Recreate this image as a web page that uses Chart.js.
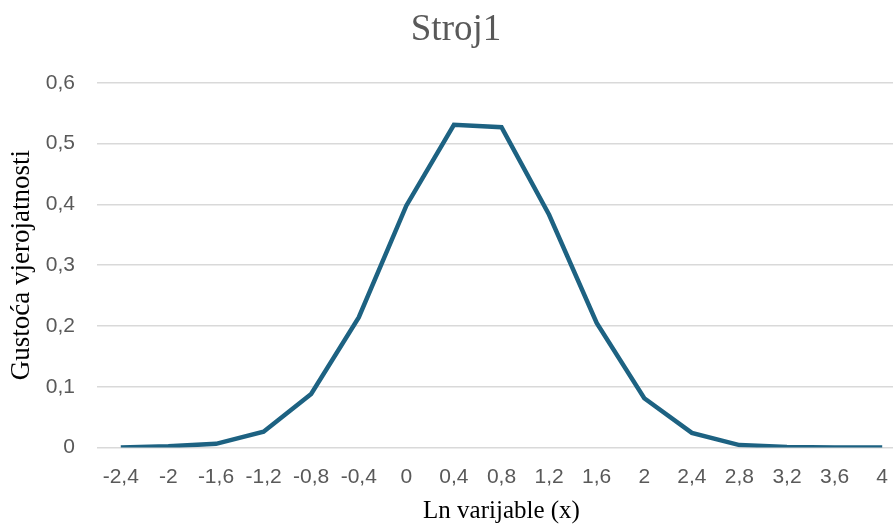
<!DOCTYPE html>
<html>
<head>
<meta charset="utf-8">
<script src="https://cdn.jsdelivr.net/npm/chart.js@4"></script>
<style>
  html, body { margin: 0; padding: 0; background: #fff; overflow: hidden; }
  #wrap { width: 906px; height: 526px; position: relative; }
</style>
</head>
<body>
<div id="wrap"><canvas id="grafik"></canvas></div>
<script>
const kategorije = ['-2,4', '-2', '-1,6', '-1,2', '-0,8', '-0,4', '0', '0,4', '0,8', '1,2', '1,6', '2', '2,4', '2,8', '3,2', '3,6', '4'];
const gustoca = [0, 0.002, 0.006, 0.026, 0.088, 0.214, 0.398, 0.531, 0.527, 0.383, 0.205, 0.081, 0.024, 0.004, 0.001, 0, 0];

const ctx = document.getElementById('grafik');
new Chart(ctx, {
  type: 'line',
  data: {
    labels: kategorije,
    datasets: [{
      label: 'Stroj1',
      data: gustoca,
      borderColor: '#1d6282',
      borderWidth: 4.5,
      pointRadius: 0,
      tension: 0,
      fill: false
    }]
  },
  options: {
    responsive: true,
    maintainAspectRatio: false,
    animation: false,
    layout: { padding: { left: 6, right: 0, top: 0, bottom: 0 } },
    plugins: {
      legend: { display: false },
      tooltip: { enabled: false },
      title: {
        display: true,
        text: 'Stroj1',
        color: '#595959',
        font: { family: 'Liberation Serif', size: 37, weight: 'normal' },
        padding: { top: 8, bottom: 30.5 }
      }
    },
    scales: {
      x: {
        offset: true,
        grid: { display: false, drawTicks: false },
        border: { display: false },
        afterFit: function (s) { s.height = 78.5; },
        ticks: {
          color: '#595959',
          font: { family: 'Liberation Sans', size: 21 },
          maxRotation: 0,
          autoSkip: false,
          padding: 17
        },
        title: {
          display: true,
          text: 'Ln varijable (x)',
          color: '#000',
          font: { family: 'Liberation Serif', size: 25 },
          padding: { top: 1, bottom: 0 }
        }
      },
      y: {
        min: 0,
        max: 0.6,
        grid: { color: '#d9d9d9', lineWidth: 1.5, drawTicks: false },
        border: { display: false },
        afterFit: function (s) { s.width = 91; },
        ticks: {
          stepSize: 0.1,
          color: '#595959',
          font: { family: 'Liberation Sans', size: 21 },
          padding: 22,
          callback: function (v) { return v === 0 ? '0' : v.toFixed(1).replace('.', ','); }
        },
        title: {
          display: true,
          text: 'Gustoća vjerojatnosti',
          color: '#000',
          font: { family: 'Liberation Serif', size: 27 },
          padding: { top: 0, bottom: 8 }
        }
      }
    }
  }
});
</script>
</body>
</html>
